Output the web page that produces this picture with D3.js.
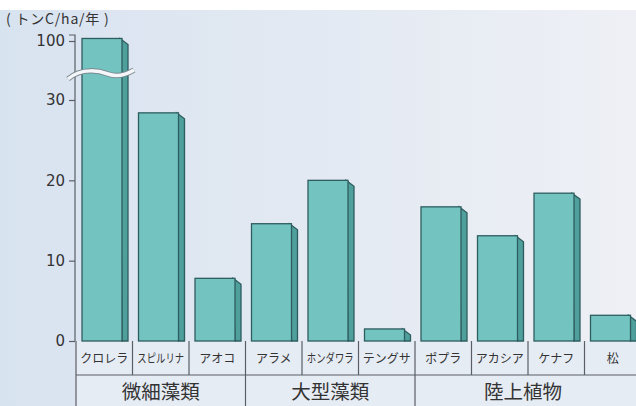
<!DOCTYPE html>
<html>
<head>
<meta charset="utf-8">
<script src="https://cdn.jsdelivr.net/npm/d3@7"></script>
<style>
  body { margin: 0; background: #fff; }
  svg { display: block; }
</style>
</head>
<body>
<div id="chart"></div>
<script>
// values (トンC/ha/年)
const categories = ["クロレラ", "スピルリナ", "アオコ", "アラメ", "ホンダワラ", "テングサ", "ポプラ", "アカシア", "ケナフ", "松"];
const values = [103, 28.4, 7.8, 14.6, 20, 1.5, 16.7, 13.1, 18.4, 3.2];
const groupNames = ["微細藻類", "大型藻類", "陸上植物"];
const groupOf = [0, 0, 0, 1, 1, 1, 2, 2, 2, 2];
const tickValues = [0, 10, 20, 30, 100];
const unitLabel = "( トンC/ha/年 )";

const W = 636, H = 406;
const svg = d3.select("#chart").append("svg").attr("width", W).attr("height", H);

const defs = svg.append("defs");
const grad = defs.append("linearGradient").attr("id", "bg").attr("x1", "0").attr("x2", "1");
grad.append("stop").attr("offset", "0").attr("stop-color", "#d8e3f0");
grad.append("stop").attr("offset", "1").attr("stop-color", "#eef0f5");

svg.append("rect").attr("x", 0).attr("y", 10).attr("width", W).attr("height", H - 10).attr("fill", "url(#bg)");

// scales
const x = d3.scaleBand().domain(categories).range([76, 641]).padding(0);
const y = d3.scaleLinear().domain([0, 30, 100]).range([341, 100, 41]);

// table rows under the axis
const rowTop = 341, rowMid = 375, rowBot = 410;
svg.append("rect").attr("x", 76).attr("y", rowTop).attr("width", W - 76).attr("height", rowBot - rowTop)
    .attr("fill", "#e6ecf4");

const lineColor = "#5a5f66";
const table = svg.append("g").attr("stroke", lineColor).attr("stroke-width", 1.2);
table.append("line").attr("x1", 76).attr("x2", W).attr("y1", rowMid).attr("y2", rowMid);
categories.forEach((c, i) => {
    const xx = x(c);
    const isGroupEdge = i === 0 || groupOf[i] !== groupOf[i - 1];
    table.append("line").attr("x1", xx).attr("x2", xx).attr("y1", rowTop).attr("y2", isGroupEdge ? rowBot : rowMid);
});
table.append("line").attr("x1", x.range()[1]).attr("x2", x.range()[1]).attr("y1", rowTop).attr("y2", rowMid);

// long katakana names are squeezed sideways into the cell, as in the print
svg.append("g").selectAll("text").data(categories).join("text")
    .attr("transform", d => `translate(${x(d) + x.bandwidth() / 2},363) scale(${d.length > 4 ? 0.78 : 1},1)`)
    .attr("text-anchor", "middle")
    .attr("font-family", "'Noto Sans CJK JP'")
    .attr("font-size", 12)
    .attr("fill", "#333")
    .text(d => d);

groupNames.forEach((g, gi) => {
    const idx = categories.filter((c, i) => groupOf[i] === gi);
    const x0 = x(idx[0]), x1 = x(idx[idx.length - 1]) + x.bandwidth();
    svg.append("text")
        .attr("x", (x0 + x1) / 2 - (gi === 2 ? 5 : 0))
        .attr("y", 399)
        .attr("text-anchor", "middle")
        .attr("font-family", "'Noto Sans CJK JP'")
        .attr("font-size", 19.5)
        .attr("fill", "#333")
        .text(g);
});

// bars, with a bevelled side face
const front = 40, depth = 6, inset = 6;
const bars = svg.append("g");
categories.forEach((c, i) => {
    const x0 = x(c) + inset, x1 = x0 + front;
    const top = y(values[i]), bot = y(0);
    bars.append("path")
        .attr("d", `M${x1 - 2},${top}L${x1 + depth},${top + depth}L${x1 + depth},${bot}L${x1},${bot}Z`)
        .attr("fill", "#4f9f9d").attr("stroke", "#2e5d5f").attr("stroke-width", 1.3);
    bars.append("rect")
        .attr("x", x0).attr("y", top).attr("width", front).attr("height", bot - top)
        .attr("fill", "#73c3c1").attr("stroke", "#2e5d5f").attr("stroke-width", 1.3);
});

// y axis
const axis = svg.append("g").attr("transform", "translate(75,0)")
    .call(d3.axisLeft(y).tickValues(tickValues).tickSize(6).tickPadding(4));
axis.select(".domain").attr("d", `M-6,${y(100) - 6}H0V${y(0)}`).attr("stroke", lineColor).attr("stroke-width", 1.2);
axis.selectAll(".tick line").attr("stroke", lineColor).attr("stroke-width", 1.2);
axis.selectAll(".tick text")
    .attr("font-family", "'DejaVu Sans'")
    .attr("font-size", 15)
    .attr("fill", "#333");
axis.select(".tick text").attr("dy", "0.3em");

// axis break across the first bar
const by = 75;
const wave = `M68,${by + 4}C82,${by - 8} 100,${by - 4} 108,${by - 1}S124,${by + 1} 134,${by - 5}`;
svg.append("path").attr("d", wave).attr("fill", "none").attr("stroke", "#7a8a90").attr("stroke-width", 5.5);
svg.append("path").attr("d", wave).attr("fill", "none").attr("stroke", "#f4f6f9").attr("stroke-width", 3.5);

// unit label
svg.append("text")
    .attr("x", 6).attr("y", 24)
    .attr("font-family", "'Noto Sans CJK JP'")
    .attr("font-size", 14)
    .attr("letter-spacing", 0.8)
    .attr("fill", "#333")
    .text(unitLabel);
</script>
</body>
</html>
